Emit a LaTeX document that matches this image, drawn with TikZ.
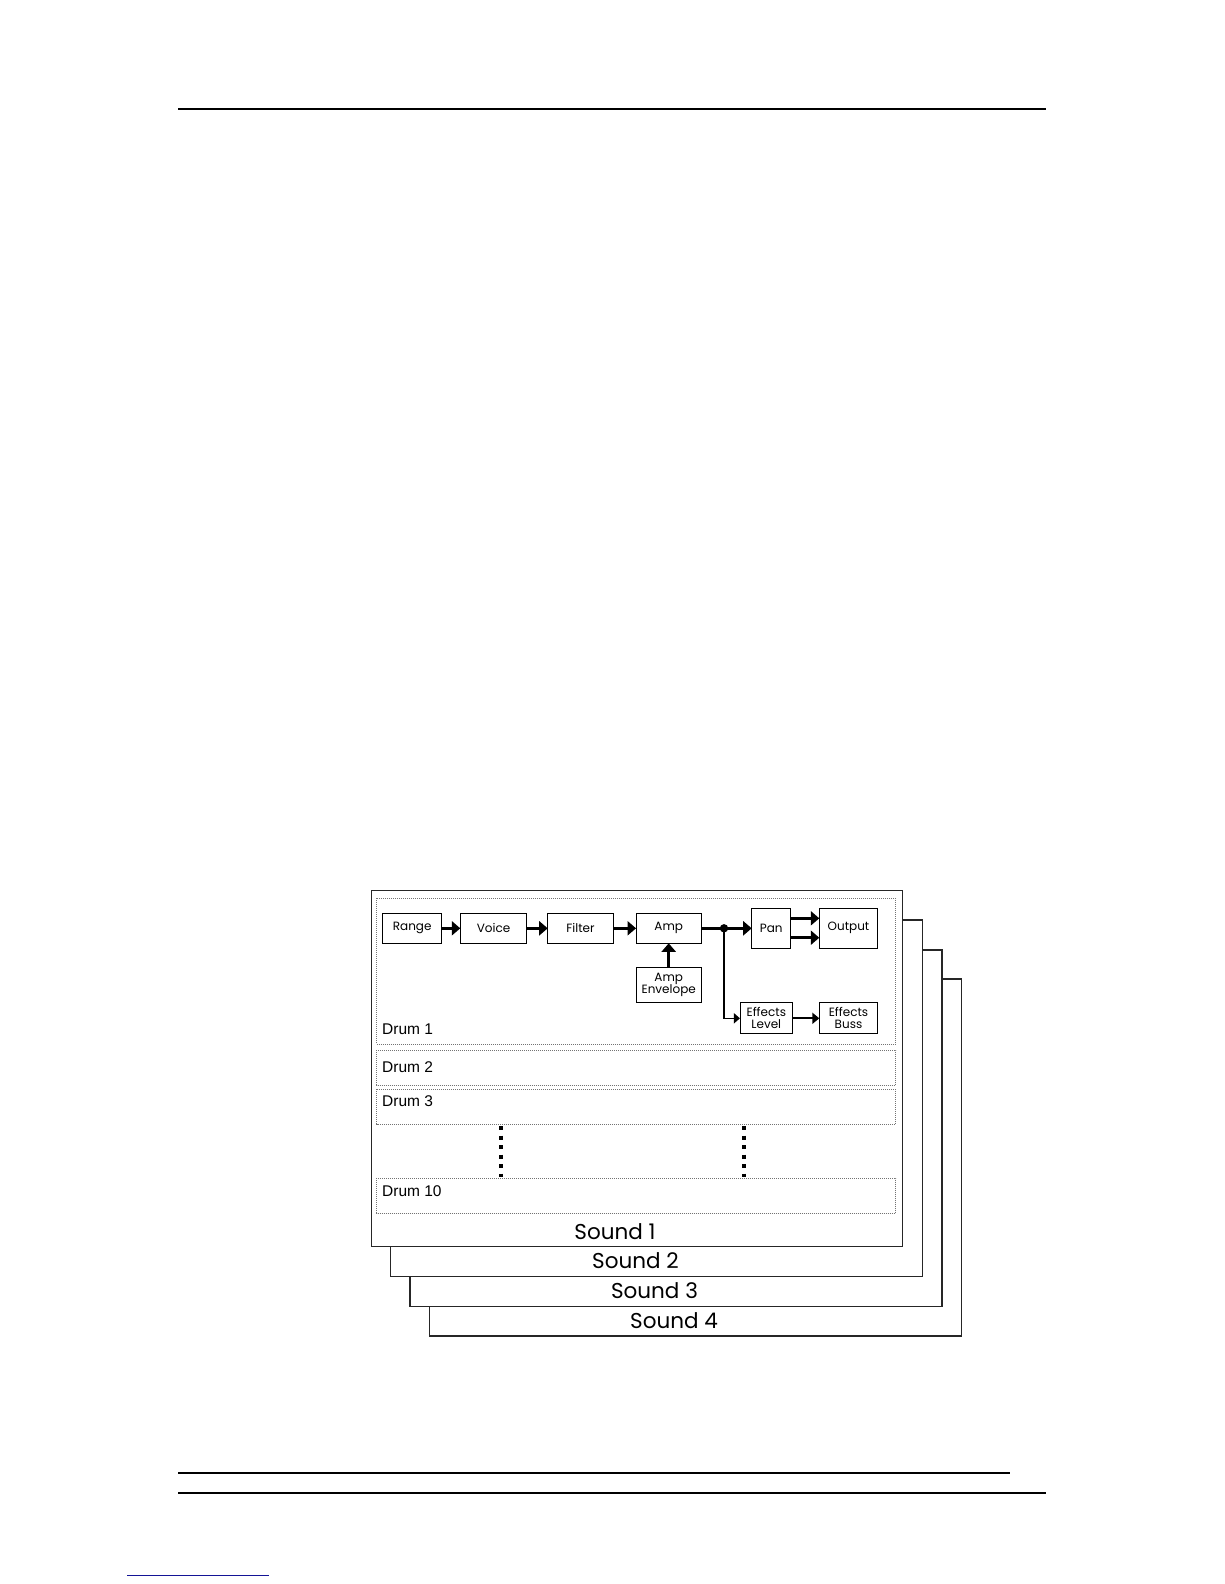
\documentclass[tikz,border=0pt]{standalone}
\usepackage{fontspec}
\setmainfont{Poppins}
\newfontfamily\drumfont{Liberation Sans}
\usetikzlibrary{arrows.meta}
\begin{document}
\begin{tikzpicture}[x=1pt,y=-1pt,
  sframe/.style={draw=black!85, line width=1.2pt, fill=white},
  dbox/.style={draw=black!55, line width=1pt, densely dotted},
  blk/.style={draw=black, line width=0.9pt, inner sep=0pt, outer sep=0pt,
    align=center, font=\fontsize{12}{12}\selectfont},
  drumlbl/.style={anchor=base west, inner sep=0pt, font=\drumfont\fontsize{15.5}{15.5}\selectfont},
  soundlbl/.style={anchor=base, inner sep=0pt, font=\fontsize{21.5}{21.5}\selectfont},
  fatarrow/.style={line width=3pt, -{Triangle[length=8.5pt,width=14pt]}},
  fatline/.style={line width=3pt},
  midarrow/.style={line width=2pt, -{Triangle[length=7pt,width=11pt]}},
  thinarrow/.style={line width=1.5pt, -{Triangle[length=6pt,width=10pt]}},
  rule/.style={line width=2.3pt, draw=black},
  vdots/.style={line width=3.5pt, dash pattern=on 4pt off 5.5pt}
]
\useasboundingbox (0,0) rectangle (1224,1584);

% page rules
\coordinate (t1) at (178,108.7);  \coordinate (t2) at (1046,108.7);
\coordinate (b1) at (178,1472.7); \coordinate (b2) at (1010,1472.7);
\coordinate (c1) at (178,1492.7); \coordinate (c2) at (1046,1492.7);
\coordinate (l1) at (127,1575);   \coordinate (l2) at (269,1575);
\draw[rule] (t1) -- (t2);
\draw[rule] (b1) -- (b2);
\draw[rule] (c1) -- (c2);
\draw[line width=1pt, draw={rgb,255:red,20;green,20;blue,150}] (l1) -- (l2);

% sound frames (back to front)
\draw[sframe] (429.3,979) rectangle (961.7,1336);
\draw[sframe] (410,950) rectangle (942,1306.7);
\draw[sframe] (390.7,920) rectangle (922.7,1276.7);
\draw[sframe] (371.7,890.3) rectangle (902.7,1246.7);

\node[soundlbl] (s4) at (674,1328) {Sound 4};
\node[soundlbl] (s3) at (654.5,1298) {Sound 3};
\node[soundlbl] (s2) at (635.5,1268) {Sound 2};
\node[soundlbl] (s1) at (615,1239) {Sound 1};

% drum boxes
\draw[dbox] (376.5,898.3) rectangle (895.5,1044);
\draw[dbox] (376.5,1050) rectangle (895.5,1085);
\draw[dbox] (376.5,1089.3) rectangle (895.5,1124);
\draw[dbox] (376.5,1178.3) rectangle (895.5,1213.3);

\node[drumlbl] (d1) at (382,1034) {Drum 1};
\node[drumlbl] (d2) at (382,1072) {Drum 2};
\node[drumlbl] (d3) at (382,1106.7) {Drum 3};
\node[drumlbl] (d10) at (382,1196.7) {Drum 10};

% continuation dots
\coordinate (va1) at (501,1126);   \coordinate (va2) at (501,1177.3);
\coordinate (vb1) at (744,1126);   \coordinate (vb2) at (744,1177.3);
\draw[vdots] (va1) -- (va2);
\draw[vdots] (vb1) -- (vb2);

% signal chain blocks
\node[blk, minimum width=59pt, minimum height=30pt] (range) at (412.2,928.3) {Range};
\node[blk, minimum width=66.4pt, minimum height=30pt] (voice) at (493.5,928.3) {Voice};
\node[blk, minimum width=65.6pt, minimum height=30pt] (filter) at (580.5,928.3) {Filter};
\node[blk, minimum width=65.3pt, minimum height=30pt] (amp) at (668.7,928.3) {Amp};
\node[blk, minimum width=65.3pt, minimum height=35pt] (env) at (668.7,984.8) {Amp\\Envelope};
\node[blk, minimum width=39pt, minimum height=39.6pt] (pan) at (771.2,928.3) {Pan};
\node[blk, minimum width=58.4pt, minimum height=39.6pt] (out) at (848.5,928.3) {Output};
\node[blk, minimum width=52.7pt, minimum height=31pt] (efl) at (766.3,1018.3) {Effects\\Level};
\node[blk, minimum width=58.4pt, minimum height=31pt] (efb) at (848.5,1018.3) {Effects\\Buss};

\coordinate (jn) at (724,928.3);

\draw[fatarrow] (range) -- (voice);
\draw[fatarrow] (voice) -- (filter);
\draw[fatarrow] (filter) -- (amp);
\draw[fatarrow] (env) -- (amp);
\draw[fatline] (amp.east) -- (jn);
\draw[fatarrow] (jn) -- (pan.west);
\fill (jn) circle (4.2pt);
\draw[fatarrow] ([yshift=10pt]pan.east) -- ([yshift=10pt]out.west);
\draw[fatarrow] ([yshift=-9.4pt]pan.east) -- ([yshift=-9.4pt]out.west);
\draw[thinarrow] (jn) |- (efl.west);
\draw[midarrow] (efl) -- (efb);
\end{tikzpicture}
\end{document}
